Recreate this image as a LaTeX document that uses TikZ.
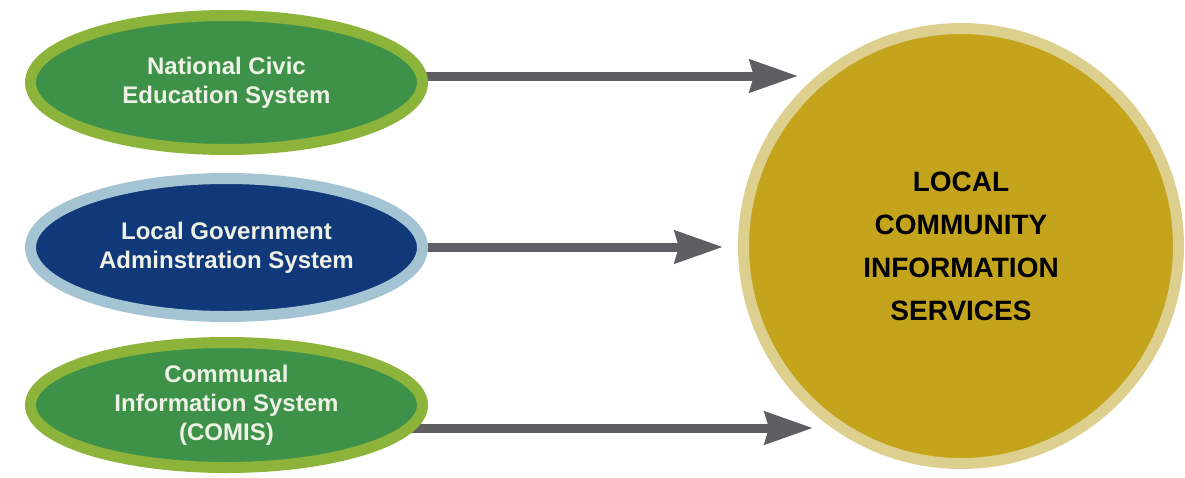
\documentclass[tikz,border=0pt]{standalone}
\usepackage{fontspec}
\setmainfont{Liberation Sans}
\usetikzlibrary{arrows.meta,shapes.geometric,backgrounds}
\definecolor{sysgreen}{HTML}{3E9148}
\definecolor{syslime}{HTML}{8DB43A}
\definecolor{sysblue}{HTML}{11397A}
\definecolor{sysice}{HTML}{A4C3D3}
\definecolor{hubgold}{HTML}{C3A41C}
\definecolor{hubsand}{HTML}{DDD08E}
\definecolor{feedgray}{HTML}{5F5F63}
\definecolor{systext}{HTML}{EEF2E6}
\tikzset{
  sysnode/.style={ellipse, line width=11pt, inner sep=0pt, align=center,
    minimum width=392pt, text=systext,
    font=\fontsize{24}{29}\selectfont\bfseries},
  hubnode/.style={circle, line width=11pt, inner sep=0pt, align=center,
    minimum size=435pt, draw=hubsand, fill=hubgold, text=black,
    font=\fontsize{28}{43}\selectfont\bfseries},
  feed/.style={line width=9pt, draw=feedgray,
    -{Stealth[length=48pt,width=32pt,inset=4pt]}}
}

\begin{document}
\begin{tikzpicture}[x=1pt,y=-1pt]
                \useasboundingbox (0,0) rectangle (1185,477);

                %left: the three systems
                \node[sysnode, draw=syslime, fill=sysgreen, minimum height=134pt]
                    (civic) at (226.5,82.5) {National Civic\\Education System};
                \node[sysnode, draw=sysice, fill=sysblue, minimum height=138pt]
                    (admin) at (226.5,247.5) {Local Government\\Adminstration System};
                \node[sysnode, draw=syslime, fill=sysgreen, minimum height=125pt]
                    (comis) at (226.5,405) {Communal\\Information System\\(COMIS)};

                %right: big circle
                \node[hubnode] (lcis) at (961,246)
                    {LOCAL\\COMMUNITY\\INFORMATION\\SERVICES};

                %arrow tips
                \coordinate (civictip) at (798,76);
                \coordinate (admintip) at (723,247);
                \coordinate (comistip) at (813,428);

                %feeding arrows (behind the ellipses)
                \begin{scope}[on background layer]
                    \foreach \s in {civic,admin,comis}
                        \draw[feed] (\s.center |- \s tip) -- (\s tip);
                \end{scope}
            \end{tikzpicture}
\end{document}
